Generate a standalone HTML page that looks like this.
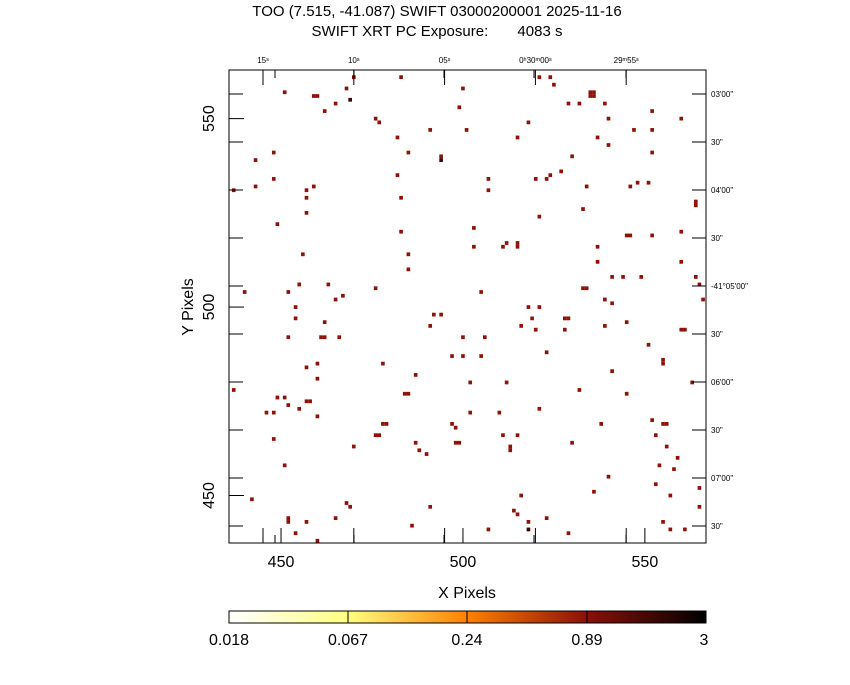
<!DOCTYPE html>
<html><head><meta charset="utf-8"><style>
body{margin:0;background:#fff;}
svg text{font-family:"Liberation Sans",sans-serif;fill:#000;}
</style></head><body>
<svg id="chart" width="850" height="680" xmlns="http://www.w3.org/2000/svg">
<defs><linearGradient id="cg" x1="0" x2="1" y1="0" y2="0">
<stop offset="0" stop-color="#ffffff"/><stop offset="0.25" stop-color="#ffff80"/><stop offset="0.5" stop-color="#ff8000"/><stop offset="0.75" stop-color="#8b1008"/><stop offset="1" stop-color="#000000"/></linearGradient></defs>
<text x="437" y="16" font-size="15" text-anchor="middle">TOO (7.515, -41.087) SWIFT 03000200001 2025-11-16</text>
<text x="437" y="36" font-size="15" text-anchor="middle" xml:space="preserve">SWIFT XRT PC Exposure:       4083 s</text>
<g id="marks"></g>
<g id="axes"></g>
<rect x="229" y="70" width="477" height="473" fill="none" stroke="#000" stroke-width="1"/>
<text x="467" y="598" font-size="16" text-anchor="middle">X Pixels</text>
<text x="0" y="0" font-size="16" text-anchor="middle" transform="translate(193,307) rotate(-90)">Y Pixels</text>
<g>
<rect x="229" y="611" width="477" height="12" fill="url(#cg)" stroke="#000"/>
<line x1="348" x2="348" y1="611" y2="623" stroke="#000"/><line x1="467" x2="467" y1="611" y2="623" stroke="#000"/><line x1="587" x2="587" y1="611" y2="623" stroke="#000"/>
<text x="229" y="645" font-size="16" text-anchor="middle">0.018</text>
<text x="348" y="645" font-size="16" text-anchor="middle">0.067</text>
<text x="467" y="645" font-size="16" text-anchor="middle">0.24</text>
<text x="587" y="645" font-size="16" text-anchor="middle">0.89</text>
<text x="704" y="645" font-size="16" text-anchor="middle">3</text>
</g>
</svg>
<script>
const xs=[437,451,459,460,462,465,468,469,476,477,482,485,491,494,494,499,501,500,470,483,515,530,518,521,524,525,529,532,535,536,535,536,537,539,540,540,552,552,552,560,547,443,448,443,448,457,457,459,482,483,507,507,520,524,527,523,534,533,546,548,551,564,564,449,457,483,503,503,511,512,515,515,521,545,546,552,537,560,456,485,485,440,452,455,463,465,467,476,505,518,521,533,534,537,541,544,549,560,564,565,566,454,454,462,452,461,462,466,492,494,491,500,506,516,519,520,523,528,529,528,539,545,560,561,551,555,555,541,539,457,460,460,478,487,497,500,502,505,512,532,541,563,437,449,451,452,457,458,446,448,455,460,484,485,479,478,476,477,487,488,490,497,498,498,499,502,510,511,513,513,515,521,530,538,552,555,556,553,556,545,451,470,468,469,448,442,452,452,454,457,460,465,486,491,507,514,515,516,518,523,536,554,559,558,553,565,555,557,561,518,529,540,557,565];
const ys=[531,557,556,556,552,554,558,555,550,549,545,541,547,540,539,553,547,558,561,561,545,540,549,561,561,559,554,554,556,556,557,557,545,554,550,543,552,547,541,550,547,539,541,532,534,531,529,532,535,529,534,531,534,535,536,534,532,526,532,533,533,528,527,522,525,520,521,516,516,517,517,516,524,519,519,519,516,520,514,514,510,504,504,506,506,502,503,505,504,500,500,505,505,512,508,508,508,512,508,506,502,500,497,496,492,492,492,492,498,498,495,492,492,495,497,494,488,497,497,494,495,496,494,494,490,485,486,501,502,484,485,481,485,482,487,487,480,487,480,478,483,480,478,476,476,474,475,475,472,472,473,471,477,477,469,469,466,466,464,462,461,469,468,464,464,472,472,466,463,462,466,473,464,469,470,469,469,466,463,477,458,463,448,447,465,449,443,444,440,443,438,444,442,447,441,446,445,450,443,444,451,458,460,457,453,447,443,441,441,441,440,455,450,452];
const dark=[[515,540],[469,555],[494,539],[518,441],[560,480]];
const xTicks=[450,500,550];
const yTicks=[450,500,550];
const decLabels=["03'00\"","30\"","04'00\"","30\"","-41°05'00\"","30\"","06'00\"","30\"","07'00\"","30\""];
const raLabels=["15ˢ","10ˢ","05ˢ","0ʰ30ᵐ00ˢ","29ᵐ55ˢ"];
const X0=229,X1=706,Y0=70,Y1=543,xmin=435.7,xmax=566.8,ymin=437.4,ymax=562.9;
function sx(v){return X0+(v-xmin)/(xmax-xmin)*(X1-X0);}
function sy(v){return Y1-(v-ymin)/(ymax-ymin)*(Y1-Y0);}
const NS="http://www.w3.org/2000/svg";
const g=document.getElementById('marks');
for(let i=0;i<xs.length;i++){
 const r=document.createElementNS(NS,'rect');
 
 
 const isDark=dark.some(d=>d[0]===xs[i]&&d[1]===ys[i]);
 r.setAttribute('x',sx(xs[i]-0.5));r.setAttribute('y',sy(ys[i]+0.5));
 r.setAttribute('width',sx(xs[i]+0.5)-sx(xs[i]-0.5));r.setAttribute('height',sy(ys[i]-0.5)-sy(ys[i]+0.5));
 r.setAttribute('fill',isDark?'#3a0505':'#8f1109');
 g.appendChild(r);
}
const a=document.getElementById('axes');
function line(x1,y1,x2,y2){const l=document.createElementNS(NS,'line');l.setAttribute('x1',x1);l.setAttribute('y1',y1);l.setAttribute('x2',x2);l.setAttribute('y2',y2);l.setAttribute('stroke','#000');a.appendChild(l);}
function text(x,y,s,size,anchor,rot){const t=document.createElementNS(NS,'text');t.setAttribute('x',x);t.setAttribute('y',y);t.setAttribute('font-size',size);t.setAttribute('text-anchor',anchor);if(rot)t.setAttribute('transform',rot);t.textContent=s;a.appendChild(t);return t;}
xTicks.forEach(v=>{const x=sx(v);line(x,Y1,x,Y1-15);
 const t=text(x,567,String(v),16,'middle');
 
 });
yTicks.forEach(v=>{const y=sy(v);line(X0,y,X0+15,y);
 const t=text(0,0,String(v),16,'middle','translate(214,'+y+') rotate(-90)');
 
 });
decLabels.forEach((s,i)=>{const y=94+i*48;line(X1,y,X1-14,y);line(X0,y,X0+14,y);
 const t=text(711,y+3,s,8,'start');
 
 });
raLabels.forEach((s,i)=>{const x=263+i*90.8;line(x,Y0,x,Y0+15);line(x,Y1,x,Y1-15);
 const t=text(x,63,s,8,'middle');
 
 });
[275,354,444,534,626].forEach(x=>{line(x,Y0,x,Y0+8);line(x,Y1,x,Y1-8);});
</script>
</body></html>
